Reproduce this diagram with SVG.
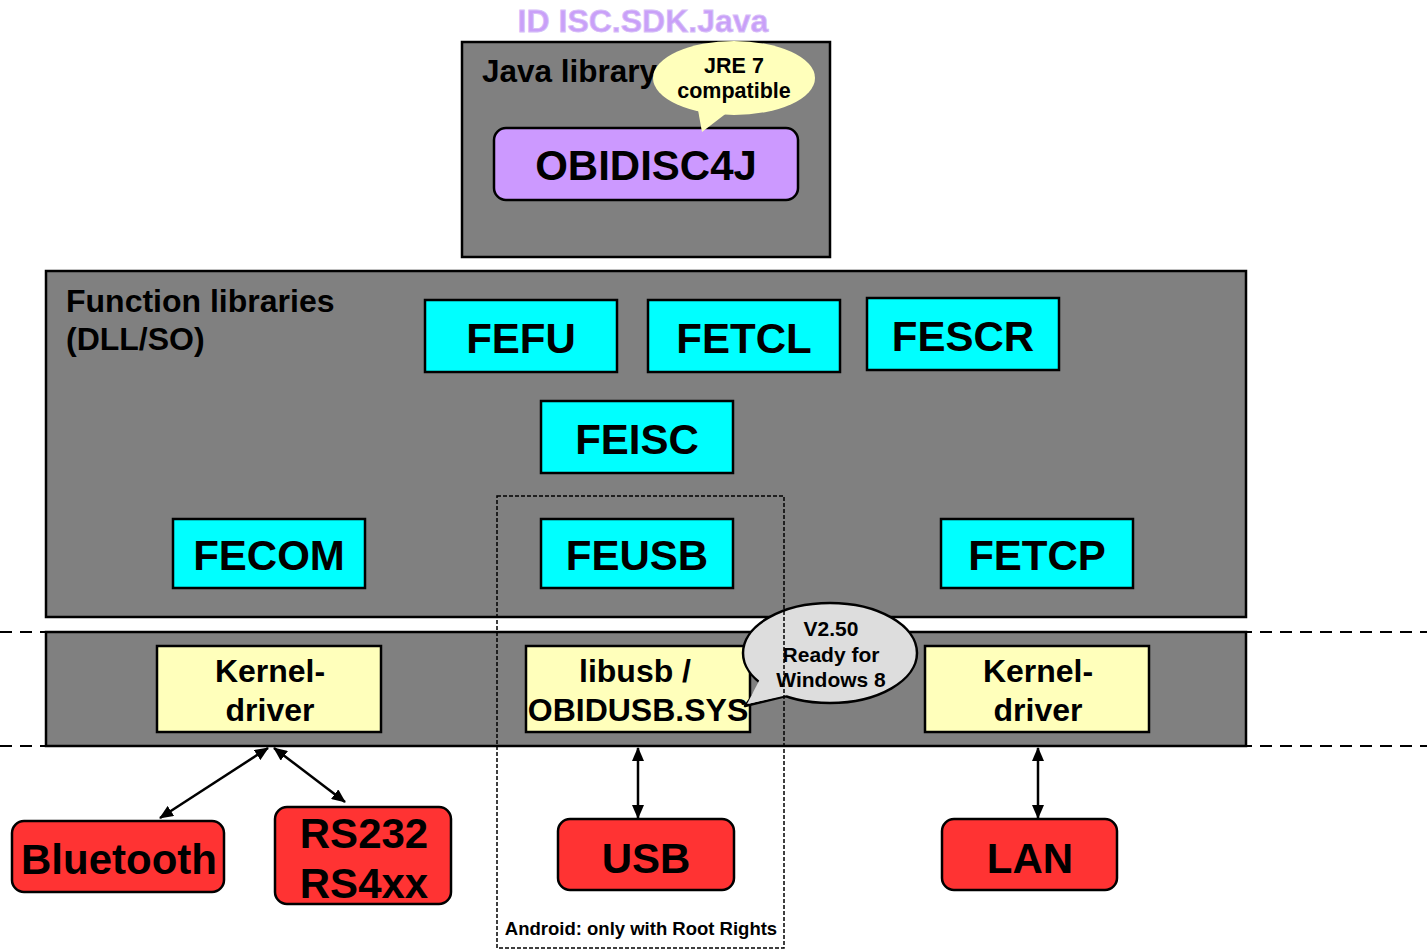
<svg xmlns="http://www.w3.org/2000/svg" width="1427" height="950" viewBox="0 0 1427 950">
<defs>
<marker id="ah" viewBox="0 0 14 12" refX="13" refY="6" markerWidth="14" markerHeight="12" markerUnits="userSpaceOnUse" orient="auto-start-reverse">
<path d="M0,0 L14,6 L0,12 Z" fill="#000"/>
</marker>
</defs>
<style>
text{font-family:"Liberation Sans",Arial,sans-serif;font-weight:bold;fill:#000;text-anchor:middle}
.panel{fill:#808080;stroke:#000;stroke-width:2.5}
.fe{fill:#00ffff;stroke:#000;stroke-width:2.5}
.drv{fill:#ffffbb;stroke:#000;stroke-width:2.5}
.io{fill:#ff3333;stroke:#000;stroke-width:2.5}
.fet{font-size:42px}
.drt{font-size:32px}
.iot{font-size:42px}
.lbl{font-size:32px;text-anchor:start}
.dash{stroke:#000;stroke-width:2;stroke-dasharray:12 8;fill:none}
.conn{stroke:#000;stroke-width:2.5;fill:none;marker-start:url(#ah);marker-end:url(#ah)}
</style>
<rect width="1427" height="950" fill="#fff"/>

<text x="643" y="32" style="font-size:32px;fill:#c9a0f8;stroke:#d8c0f8;stroke-width:0.8">ID ISC.SDK.Java</text>

<g id="java-library">
<rect class="panel" x="462" y="42" width="368" height="215"/>
<text class="lbl" x="482" y="82" style="font-size:31.5px">Java library</text>
</g>
<g id="obidisc4j">
<rect x="494" y="128" width="304" height="72" rx="12" fill="#cc99ff" stroke="#000" stroke-width="2.5"/>
<text x="646" y="180" style="font-size:42px">OBIDISC4J</text>
</g>
<g id="jre-bubble">
<polygon points="698,110 728,112 702,132" fill="#ffffbb"/>
<ellipse cx="734" cy="78" rx="81" ry="37" fill="#ffffbb"/>
<text x="734" y="73" style="font-size:21.5px">JRE 7</text>
<text x="734" y="98" style="font-size:21.5px">compatible</text>
</g>

<g id="function-libraries">
<rect class="panel" x="46" y="271" width="1200" height="346"/>
<text class="lbl" x="66" y="312">Function libraries</text>
<text class="lbl" x="66" y="350">(DLL/SO)</text>
</g>
<g id="fefu"><rect class="fe" x="425" y="300" width="192" height="72"/><text class="fet" x="521" y="353">FEFU</text></g>
<g id="fetcl"><rect class="fe" x="648" y="300" width="192" height="72"/><text class="fet" x="744" y="353">FETCL</text></g>
<g id="fescr"><rect class="fe" x="867" y="298" width="192" height="72"/><text class="fet" x="963" y="351">FESCR</text></g>
<g id="feisc"><rect class="fe" x="541" y="401" width="192" height="72"/><text class="fet" x="637" y="454">FEISC</text></g>
<g id="fecom"><rect class="fe" x="173" y="519" width="192" height="69"/><text class="fet" x="269" y="570">FECOM</text></g>
<g id="feusb"><rect class="fe" x="541" y="519" width="192" height="69"/><text class="fet" x="637" y="570">FEUSB</text></g>
<g id="fetcp"><rect class="fe" x="941" y="519" width="192" height="69"/><text class="fet" x="1037" y="570">FETCP</text></g>

<g id="driver-layer">
<line class="dash" x1="0" y1="632" x2="1427" y2="632"/>
<line class="dash" x1="0" y1="746" x2="1427" y2="746"/>
<rect class="panel" x="46" y="632" width="1200" height="114"/>
</g>
<g id="kernel-driver-left"><rect class="drv" x="157" y="646" width="224" height="86"/><text class="drt" x="270" y="682">Kernel-</text><text class="drt" x="270" y="721">driver</text></g>
<g id="libusb"><rect class="drv" x="526" y="646" width="224" height="86"/><text class="drt" x="635" y="682">libusb /</text><text class="drt" x="638" y="721">OBIDUSB.SYS</text></g>
<g id="kernel-driver-right"><rect class="drv" x="925" y="646" width="224" height="86"/><text class="drt" x="1038" y="682">Kernel-</text><text class="drt" x="1038" y="721">driver</text></g>

<g id="v250-bubble">
<path d="M763,682 L745,706 L790,695 Z" fill="#dddddd" stroke="#000" stroke-width="2.5" stroke-linejoin="round"/>
<ellipse cx="830" cy="653" rx="87" ry="50" fill="#dddddd" stroke="#000" stroke-width="2.5"/>
<path d="M760,679 L747,704 L792,694" fill="#dddddd" stroke="none"/>
<text x="831" y="636" style="font-size:21px">V2.50</text>
<text x="831" y="662" style="font-size:21px">Ready for</text>
<text x="831" y="687" style="font-size:21px">Windows 8</text>
</g>

<g id="android-region">
<rect x="497" y="496" width="287" height="452" fill="none" stroke="#000" stroke-width="1.5" stroke-dasharray="4 2"/>
<text x="641" y="935" style="font-size:18.5px">Android: only with Root Rights</text>
</g>

<g id="bluetooth"><rect class="io" x="12" y="821" width="212" height="71" rx="12"/><text class="iot" x="119" y="874">Bluetooth</text></g>
<g id="rs232"><rect class="io" x="275" y="807" width="176" height="97" rx="12"/><text class="iot" x="364" y="848">RS232</text><text class="iot" x="364" y="898">RS4xx</text></g>
<g id="usb"><rect class="io" x="558" y="819" width="176" height="71" rx="12"/><text class="iot" x="646" y="873">USB</text></g>
<g id="lan"><rect class="io" x="942" y="819" width="175" height="71" rx="12"/><text class="iot" x="1030" y="873">LAN</text></g>

<g id="connectors">
<line class="conn" x1="268" y1="748" x2="160" y2="818"/>
<line class="conn" x1="274" y1="748" x2="345" y2="802"/>
<line class="conn" x1="638" y1="748" x2="638" y2="818"/>
<line class="conn" x1="1038" y1="748" x2="1038" y2="818"/>
</g>
</svg>
